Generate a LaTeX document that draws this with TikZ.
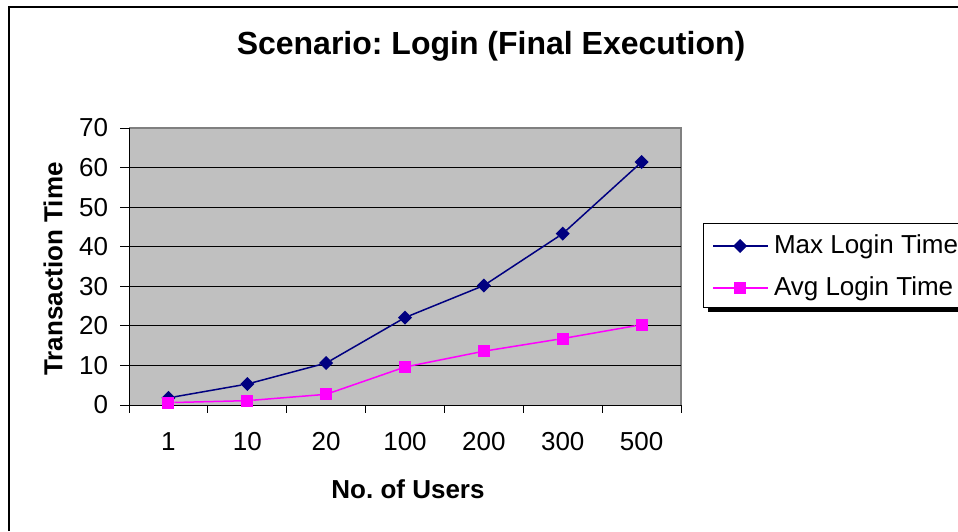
\documentclass[tikz,border=0pt]{standalone}
\usepackage{fontspec}
\setmainfont{Liberation Sans}
\usetikzlibrary{shapes.geometric}
\definecolor{maxblue}{RGB}{0,0,128}
\definecolor{avgpink}{RGB}{255,0,255}
\definecolor{plotgray}{RGB}{192,192,192}
\definecolor{edgegray}{RGB}{128,128,128}
\frenchspacing
\begin{document}
\begin{tikzpicture}[x=1pt, y=-1pt,
    every node/.style = {inner sep=0pt, outer sep=0pt},
    ticklabel/.style = {font=\fontsize{26}{31}\selectfont},
    axistitle/.style = {font=\fontsize{26}{31}\selectfont\bfseries},
    maxmark/.style = {diamond, fill=maxblue, minimum width=14pt, minimum height=14pt},
    avgmark/.style = {rectangle, fill=avgpink, minimum size=12pt},
    maxline/.style = {maxblue, line width=1.5pt},
    avgline/.style = {avgpink, line width=1.5pt}]
  \useasboundingbox (0,0) rectangle (958,531);
  % chart frame, runs off at right and bottom
  \draw[line width=2pt] (9,531) -- (9,7) -- (958,7);
  \node[font=\fontsize{32}{38}\selectfont\bfseries] (title) at (491,46) {Scenario: Login (Final Execution)};

  \begin{scope}[shift={(129,405)}, x=78.86pt, y=3.957pt]
    \fill[plotgray] (0,0) rectangle (7,70);
    \draw[edgegray, line width=1.2pt] (0,70) -- (7,70) -- (7,0);
    \foreach \v in {10,20,...,60}
      \draw[line width=0.8pt] (0,\v) -- (7,\v);
    \draw[line width=0.8pt] (0,70) -- (0,0) -- (7,0);
    \foreach \v in {0,10,...,70}
      \draw[line width=0.8pt] (0,\v) -- ++(-9pt,0)
        node[ticklabel, anchor=east, xshift=-12pt] (y\v) {\v};
    \foreach \i in {0,...,7}
      \draw[line width=0.8pt] (\i,0) -- ++(0,-8pt);
    \foreach \lab [count=\i] in {1,10,20,100,200,300,500}
      \node[ticklabel, yshift=-37pt] (x\i) at (\i-0.5,0) {\lab};
    % Max series
    \foreach \v [count=\i] in {1.8,5.3,10.6,22.1,30.2,43.3,61.4}
      \node[maxmark] (max\i) at (\i-0.5,\v) {};
    \foreach \i [evaluate=\i as \j using int(\i+1)] in {1,...,6}
      \draw[maxline] (max\i) -- (max\j);
    % Avg series
    \foreach \v [count=\i] in {0.6,1.1,2.7,9.6,13.6,16.8,20.3}
      \node[avgmark] (avg\i) at (\i-0.5,\v) {};
    \foreach \i [evaluate=\i as \j using int(\i+1)] in {1,...,6}
      \draw[avgline] (avg\i) -- (avg\j);
  \end{scope}

  \node[axistitle] (xtitle) at (408,489) {No. of Users};
  \node[axistitle, rotate=90] (ytitle) at (53,269) {Transaction Time};

  % legend
  \fill (708,228) rectangle (962,312);
  \draw[fill=white, line width=0.8pt] (703,223) rectangle (962,307);
  \coordinate (legmaxa) at (713,246);
  \coordinate (legmaxb) at (768,246);
  \coordinate (legavga) at (713,288);
  \coordinate (legavgb) at (768,288);
  \draw[maxline] (legmaxa) -- (legmaxb);
  \draw[avgline] (legavga) -- (legavgb);
  \node[maxmark] (legmax) at (740,246) {};
  \node[avgmark] (legavg) at (740,288) {};
  \node[ticklabel, anchor=base west] (legmaxtext) at (774,253) {Max Login Time};
  \node[ticklabel, anchor=base west] (legavgtext) at (774,295) {Avg Login Time};
\end{tikzpicture}
\end{document}
